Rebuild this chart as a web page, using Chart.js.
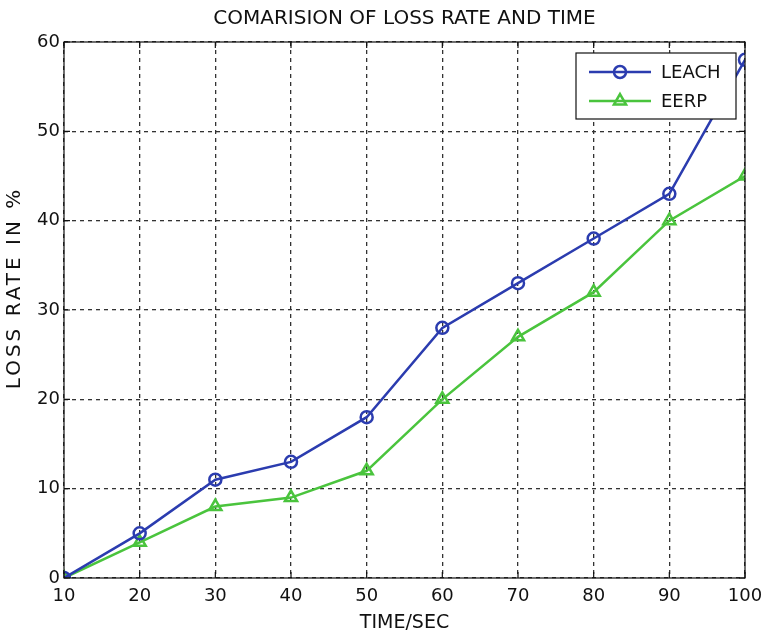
<!DOCTYPE html>
<html>
<head>
<meta charset="utf-8">
<script src="https://cdn.jsdelivr.net/npm/chart.js@4"></script>
<style>
  html, body { margin: 0; padding: 0; background: #fff; }
  #wrap { width: 764px; height: 634px; }
</style>
</head>
<body>
<div id="wrap"><canvas id="lossChart" width="764" height="634"></canvas></div>
<script>
const timeSec = [10, 20, 30, 40, 50, 60, 70, 80, 90, 100];
const leachLoss = [0, 5, 11, 13, 18, 28, 33, 38, 43, 58];
const eerpLoss = [0, 4, 8, 9, 12, 20, 27, 32, 40, 45];
const xTicks = [10, 20, 30, 40, 50, 60, 70, 80, 90, 100];
const yTicks = [0, 10, 20, 30, 40, 50, 60];

const FONT = "'DejaVu Sans', 'Liberation Sans', sans-serif";

// frame + inward ticks, matlab style
const framePlugin = {
    id: 'frame',
    afterDatasetsDraw(chart) {
        const { ctx, chartArea: a, scales } = chart;
        ctx.save();
        ctx.strokeStyle = '#111';
        ctx.lineWidth = 1.2;
        ctx.strokeRect(a.left, a.top, a.right - a.left, a.bottom - a.top);
        ctx.beginPath();
        xTicks.forEach(v => {
            const x = scales.x.getPixelForValue(v);
            ctx.moveTo(x, a.bottom); ctx.lineTo(x, a.bottom - 6);
            ctx.moveTo(x, a.top); ctx.lineTo(x, a.top + 6);
        });
        yTicks.forEach(v => {
            const y = scales.y.getPixelForValue(v);
            ctx.moveTo(a.left, y); ctx.lineTo(a.left + 6, y);
            ctx.moveTo(a.right, y); ctx.lineTo(a.right - 6, y);
        });
        ctx.stroke();

        // y axis title, letter spaced like the original
        ctx.fillStyle = '#111';
        ctx.font = '20px ' + FONT;
        ctx.letterSpacing = '3px';
        ctx.textAlign = 'center';
        ctx.textBaseline = 'middle';
        ctx.translate(15, 288);
        ctx.rotate(-Math.PI / 2);
        ctx.fillText('LOSS RATE IN %', 0, 0);
        ctx.restore();
    }
};

// legend box in the top right corner of the plot
const boxLegend = {
    id: 'boxLegend',
    afterDraw(chart) {
        const { ctx, chartArea: a } = chart;
        const right = a.right - 9, top = a.top + 11;
        const w = 160, h = 66;
        const left = right - w;
        ctx.save();
        ctx.fillStyle = '#fff';
        ctx.fillRect(left, top, w, h);
        ctx.strokeStyle = '#111';
        ctx.lineWidth = 1.2;
        ctx.strokeRect(left, top, w, h);
        chart.data.datasets.forEach((ds, i) => {
            const y = top + 19 + i * 29;
            ctx.strokeStyle = ds.borderColor;
            ctx.lineWidth = 2.5;
            ctx.beginPath();
            ctx.moveTo(left + 13, y);
            ctx.lineTo(left + 75, y);
            ctx.stroke();
            ctx.fillStyle = 'rgba(0,0,0,0)';
            Chart.helpers.drawPoint(ctx, {
                pointStyle: ds.pointStyle,
                radius: ds.pointRadius,
                borderWidth: 2.5
            }, left + 44, y);
            ctx.fillStyle = '#111';
            ctx.font = '18px ' + FONT;
            ctx.textBaseline = 'middle';
            ctx.fillText(ds.label, left + 85, y + 1);
        });
        ctx.restore();
    }
};

new Chart(document.getElementById('lossChart'), {
    type: 'line',
    data: {
        datasets: [
            {
                label: 'LEACH',
                data: timeSec.map((t, i) => ({ x: t, y: leachLoss[i] })),
                borderColor: '#2b3caf',
                backgroundColor: 'rgba(0,0,0,0)',
                borderWidth: 2.5,
                pointStyle: 'circle',
                pointRadius: 6,
                pointBorderWidth: 2.5,
                tension: 0
            },
            {
                label: 'EERP',
                data: timeSec.map((t, i) => ({ x: t, y: eerpLoss[i] })),
                borderColor: '#4ac43d',
                backgroundColor: 'rgba(0,0,0,0)',
                borderWidth: 2.5,
                pointStyle: 'triangle',
                pointRadius: 7,
                pointBorderWidth: 2.5,
                tension: 0
            }
        ]
    },
    options: {
        responsive: false,
        animation: false,
        layout: { padding: { left: 0, right: 19, top: 0, bottom: 0 } },
        plugins: {
            legend: { display: false },
            tooltip: { enabled: false },
            title: {
                display: true,
                fullSize: false,
                text: 'COMARISION OF LOSS RATE AND TIME',
                color: '#111',
                font: { family: FONT, size: 20, weight: 'normal' },
                padding: { top: 7, bottom: 11 }
            }
        },
        scales: {
            x: {
                type: 'linear',
                min: 10,
                max: 100,
                afterBuildTicks: s => { s.ticks = xTicks.map(v => ({ value: v })); },
                afterFit: s => { s.height = 56; s.paddingRight = 0; s.paddingLeft = 0; },
                ticks: { color: '#111', font: { family: FONT, size: 18 }, padding: 8 },
                grid: { color: '#333', lineWidth: 1.3, drawTicks: false },
                border: { display: false, dash: [4, 4] },
                title: {
                    display: true,
                    text: 'TIME/SEC',
                    color: '#111',
                    font: { family: FONT, size: 19 },
                    padding: { top: 0, bottom: 0 }
                }
            },
            y: {
                min: 0,
                max: 60,
                afterBuildTicks: s => { s.ticks = yTicks.map(v => ({ value: v })); },
                afterFit: s => { s.width = 64; },
                ticks: { color: '#111', font: { family: FONT, size: 18 }, padding: 4 },
                grid: { color: '#333', lineWidth: 1.3, drawTicks: false },
                border: { display: false, dash: [4, 4] }
            }
        }
    },
    plugins: [framePlugin, boxLegend]
});
</script>
</body>
</html>
